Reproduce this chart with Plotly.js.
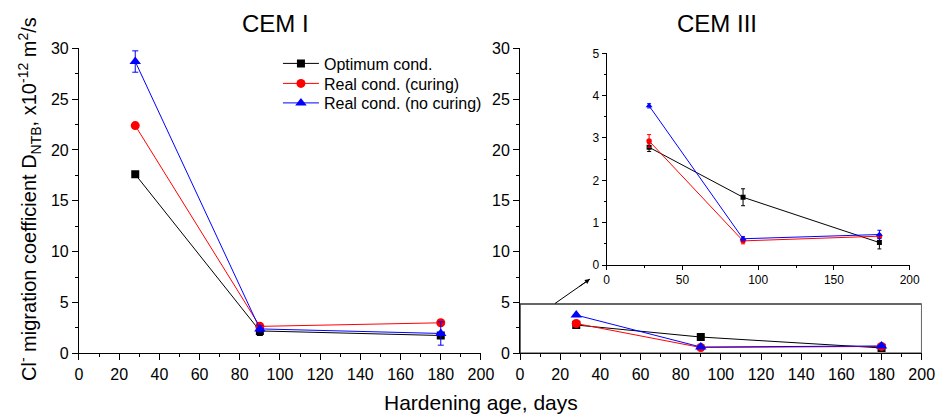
<!DOCTYPE html>
<html>
<head>
<meta charset="utf-8">
<script src="https://cdn.plot.ly/plotly-3.0.1.min.js"></script>
<style>html,body{margin:0;padding:0;background:#fff;}#chart{width:939px;height:414px;}</style>
</head>
<body>
<div id="chart"></div>
<script>
// Data
const days = [28, 90, 180];
const seriesNames = ["Optimum cond.", "Real cond. (curing)", "Real cond. (no curing)"];
// CEM I
const cem1Optimum = [17.6, 2.2, 1.75];
const cem1OptimumErr = [0.1, 0.45, 0.3];
const cem1Curing = [22.4, 2.65, 3.0];
const cem1CuringErr = [0.15, 0.2, 0.15];
const cem1NoCuring = [28.7, 2.4, 1.95];
const cem1NoCuringErr = [1.05, 0.3, 1.15];
// CEM III
const cem3Optimum = [2.78, 1.6, 0.53];
const cem3OptimumErr = [0.1, 0.2, 0.15];
const cem3Curing = [2.93, 0.57, 0.68];
const cem3CuringErr = [0.15, 0.07, 0.05];
const cem3NoCuring = [3.76, 0.62, 0.72];
const cem3NoCuringErr = [0.05, 0.05, 0.1];

const colors = ["#000000", "#ff0000", "#0000ff"];
const symbols = ["square", "circle", "triangle-up"];
const legendIds = ["legend", "legend2", "legend3"];
const FONT = "Arial, 'Liberation Sans', sans-serif";

function mk(y, err, i, xa, ya, size, show) {
  return {
    x: days, y: y, xaxis: xa, yaxis: ya,
    type: "scatter", mode: "lines+markers",
    name: seriesNames[i], showlegend: show, legend: legendIds[i],
    line: {color: colors[i], width: 1},
    marker: {color: colors[i], symbol: symbols[i], size: size},
    error_y: {type: "data", array: err, visible: true, color: colors[i], thickness: 1, width: size > 6 ? 3 : 2}
  };
}

const traces = [
  mk(cem1Optimum, cem1OptimumErr, 0, "x", "y", 8, true),
  mk(cem1Curing, cem1CuringErr, 1, "x", "y", 9, true),
  mk(cem1NoCuring, cem1NoCuringErr, 2, "x", "y", 10, true),
  mk(cem3Optimum, cem3OptimumErr, 0, "x2", "y2", 8, false),
  mk(cem3Curing, cem3CuringErr, 1, "x2", "y2", 9, false),
  mk(cem3NoCuring, cem3NoCuringErr, 2, "x2", "y2", 10, false),
  mk(cem3Optimum, cem3OptimumErr, 0, "x3", "y3", 5, false),
  mk(cem3Curing, cem3CuringErr, 1, "x3", "y3", 5.5, false),
  mk(cem3NoCuring, cem3NoCuringErr, 2, "x3", "y3", 6, false)
];

const mainX = {
  range: [0, 200], dtick: 20, tick0: 0, ticks: "outside", ticklen: 6, tickcolor: "#000",
  showline: true, linecolor: "#000", linewidth: 1, showgrid: false, zeroline: false,
  tickfont: {family: FONT, size: 16, color: "#000"},
  minor: {dtick: 10, ticks: "outside", ticklen: 3, tickcolor: "#000"}
};
const mainY = {
  range: [0, 30], dtick: 5, tick0: 0, ticks: "outside", ticklen: 6, tickcolor: "#000",
  showline: true, linecolor: "#000", linewidth: 1, showgrid: false, zeroline: false,
  tickfont: {family: FONT, size: 16, color: "#000"},
  minor: {dtick: 2.5, ticks: "outside", ticklen: 3, tickcolor: "#000"}
};

function leg(yc) {
  return {
    x: 0.296, y: 1 - yc / 414, xanchor: "left", yanchor: "middle",
    bgcolor: "rgba(0,0,0,0)", borderwidth: 0,
    font: {family: FONT, size: 16, color: "#000"},
    itemwidth: 36
  };
}

const layout = {
  width: 939, height: 414,
  margin: {l: 0, r: 0, t: 0, b: 0},
  paper_bgcolor: "#fff", plot_bgcolor: "rgba(0,0,0,0)",
  font: {family: FONT, color: "#000"},
  xaxis: Object.assign({}, mainX, {domain: [0.0841, 0.5122], anchor: "y"}),
  yaxis: Object.assign({}, mainY, {domain: [0.1466, 0.8833], anchor: "x"}),
  xaxis2: Object.assign({}, mainX, {domain: [0.5538, 0.9816], anchor: "y2"}),
  yaxis2: Object.assign({}, mainY, {domain: [0.1466, 0.8833], anchor: "x2"}),
  xaxis3: {
    domain: [0.6461, 0.9688], anchor: "y3", range: [0, 200], dtick: 50, tick0: 0,
    ticks: "outside", ticklen: 4, tickcolor: "#000", showline: true, linecolor: "#000", linewidth: 1,
    showgrid: false, zeroline: false, tickfont: {family: FONT, size: 12, color: "#000"},
    minor: {dtick: 25, ticks: "outside", ticklen: 2, tickcolor: "#000"}
  },
  yaxis3: {
    domain: [0.3599, 0.8712], anchor: "x3", range: [0, 5], dtick: 1, tick0: 0,
    ticks: "outside", ticklen: 4, tickcolor: "#000", showline: true, linecolor: "#000", linewidth: 1,
    showgrid: false, zeroline: false, tickfont: {family: FONT, size: 12, color: "#000"},
    minor: {dtick: 0.5, ticks: "outside", ticklen: 2, tickcolor: "#000"}
  },
  showlegend: true,
  legend: leg(63.5),
  legend2: leg(83.5),
  legend3: leg(103),
  shapes: [
    {type: "rect", xref: "x2", yref: "y2", x0: 0, x1: 200, y0: 0, y1: 4.85,
     line: {color: "#333", width: 1.5}, fillcolor: "rgba(0,0,0,0)", layer: "above"},
    {type: "line", xref: "x2", yref: "y2", x0: 17.4, y0: 4.9, x1: 34.8, y1: 7.3,
     line: {color: "#000", width: 1}}
  ],
  annotations: [
    {text: "CEM I", xref: "paper", yref: "paper", x: 275.8 / 939, y: 1 - 23 / 414,
     xanchor: "center", yanchor: "middle", showarrow: false, font: {family: FONT, size: 24, color: "#000"}},
    {text: "CEM III", xref: "paper", yref: "paper", x: 716.7 / 939, y: 1 - 23 / 414,
     xanchor: "center", yanchor: "middle", showarrow: false, font: {family: FONT, size: 24, color: "#000"}},
    {text: "Hardening age, days", xref: "paper", yref: "paper", x: 480.8 / 939, y: 1 - 402 / 414,
     xanchor: "center", yanchor: "middle", showarrow: false, font: {family: FONT, size: 21, color: "#000"}},
    {text: "Cl<sup>-</sup> migration coefficient D<sub>NTB</sub>, x10<sup>-12</sup> m<sup>2</sup>/s",
     xref: "paper", yref: "paper", x: 29 / 939, y: 1 - 199 / 414, textangle: -90,
     xanchor: "center", yanchor: "middle", showarrow: false, font: {family: FONT, size: 20, color: "#000"}},
    {text: " ", xref: "x2", yref: "y2", x: 34.8, y: 7.3, axref: "x2", ayref: "y2", ax: 28, ay: 6.36,
     showarrow: true, arrowhead: 2, arrowsize: 1, arrowwidth: 1, arrowcolor: "#000", standoff: 0, startstandoff: 0}
  ]
};

Plotly.newPlot("chart", traces, layout, {displayModeBar: false, staticPlot: true});
</script>
</body>
</html>
